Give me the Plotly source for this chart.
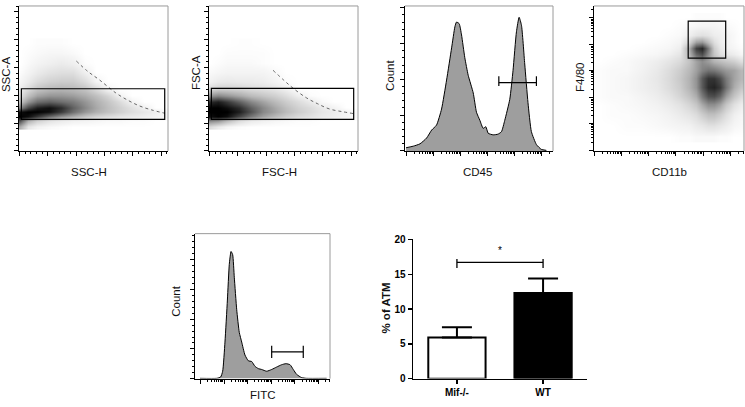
import plotly.graph_objects as go
import math

W, H = 745, 407

# ---------------- DATA ----------------
# Panel 1: SSC-A vs SSC-H density (rows = y, cols = x), relative density 0..1
ssc_x = [1, 6, 12, 20, 28, 36, 44, 52, 60, 68, 76, 84, 92, 98]
ssc_y = [17, 21, 24, 27, 30, 34, 38, 43, 48, 54, 60, 67, 74]
ssc_z = [
    [0.35, 0.10, 0.04, 0.02, 0.01, 0, 0, 0, 0, 0, 0, 0, 0, 0],
    [0.70, 0.35, 0.20, 0.12, 0.08, 0.05, 0.04, 0.03, 0.02, 0.02, 0.01, 0.01, 0, 0],
    [1.00, 0.95, 0.80, 0.60, 0.45, 0.35, 0.25, 0.18, 0.14, 0.10, 0.08, 0.06, 0.04, 0.03],
    [0.95, 1.00, 1.00, 0.95, 0.80, 0.60, 0.45, 0.35, 0.27, 0.20, 0.14, 0.10, 0.06, 0.02],
    [0.50, 0.75, 0.90, 0.95, 0.85, 0.65, 0.50, 0.38, 0.28, 0.20, 0.12, 0.05, 0, 0],
    [0.25, 0.45, 0.60, 0.65, 0.60, 0.55, 0.45, 0.35, 0.25, 0.15, 0.04, 0, 0, 0],
    [0.12, 0.28, 0.40, 0.45, 0.45, 0.42, 0.36, 0.28, 0.18, 0.04, 0, 0, 0, 0],
    [0.06, 0.15, 0.25, 0.30, 0.32, 0.30, 0.25, 0.15, 0.03, 0, 0, 0, 0, 0],
    [0.03, 0.08, 0.15, 0.20, 0.22, 0.22, 0.15, 0.04, 0, 0, 0, 0, 0, 0],
    [0.01, 0.04, 0.08, 0.12, 0.14, 0.14, 0.06, 0, 0, 0, 0, 0, 0, 0],
    [0, 0.02, 0.04, 0.06, 0.08, 0.06, 0.01, 0, 0, 0, 0, 0, 0, 0],
    [0, 0.01, 0.02, 0.03, 0.03, 0.02, 0, 0, 0, 0, 0, 0, 0, 0],
    [0, 0, 0.01, 0.01, 0.01, 0, 0, 0, 0, 0, 0, 0, 0, 0],
]
ssc_edge_x = [38.5, 46, 54, 65, 73, 81, 90, 98]
ssc_edge_y = [62, 55, 49, 40, 35, 31, 28, 26]
ssc_gate = [1.6, 97.8, 21.8, 42.9]  # x0, x1, y0, y1

# Panel 2: FSC-A vs FSC-H density
fsc_x = [1, 6, 12, 20, 28, 36, 44, 52, 60, 68, 76, 84, 92, 98]
fsc_y = [17, 21, 24, 27, 30, 34, 38, 43, 48, 54, 60, 67, 74]
fsc_z = [
    [0.15, 0.08, 0.03, 0.01, 0, 0, 0, 0, 0, 0, 0, 0, 0, 0],
    [0.50, 0.45, 0.30, 0.15, 0.08, 0.05, 0.03, 0.02, 0.01, 0.01, 0, 0, 0, 0],
    [0.95, 1.00, 0.95, 0.75, 0.55, 0.40, 0.30, 0.22, 0.16, 0.12, 0.08, 0.06, 0.04, 0.02],
    [1.00, 1.00, 1.00, 0.90, 0.70, 0.50, 0.40, 0.30, 0.22, 0.16, 0.10, 0.07, 0.04, 0.02],
    [1.00, 1.00, 0.95, 0.85, 0.65, 0.50, 0.38, 0.28, 0.20, 0.15, 0.08, 0.04, 0, 0],
    [0.85, 0.90, 0.80, 0.65, 0.50, 0.40, 0.30, 0.22, 0.15, 0.08, 0.02, 0, 0, 0],
    [0.45, 0.50, 0.45, 0.38, 0.30, 0.25, 0.20, 0.14, 0.06, 0.01, 0, 0, 0, 0],
    [0.15, 0.20, 0.20, 0.18, 0.15, 0.13, 0.10, 0.05, 0, 0, 0, 0, 0, 0],
    [0.05, 0.08, 0.09, 0.08, 0.08, 0.07, 0.04, 0.01, 0, 0, 0, 0, 0, 0],
    [0.02, 0.03, 0.04, 0.04, 0.04, 0.04, 0.02, 0, 0, 0, 0, 0, 0, 0],
    [0, 0.01, 0.02, 0.02, 0.02, 0.01, 0, 0, 0, 0, 0, 0, 0, 0],
    [0, 0, 0.01, 0.01, 0.01, 0.01, 0, 0, 0, 0, 0, 0, 0, 0],
    [0, 0, 0, 0.005, 0.005, 0, 0, 0, 0, 0, 0, 0, 0, 0],
]
fsc_edge_x = [43, 50, 56.4, 65.3, 73, 81, 90, 97.8]
fsc_edge_y = [55.6, 49, 43.3, 36.7, 32.5, 28.9, 27, 25.6]
fsc_gate = [1.6, 97.1, 21.8, 43.1]

# Panel 3: CD45 histogram
cd45_x = [0.7, 5.6, 10.1, 14.6, 18.0, 21.3, 24.7, 28.1, 31.5, 33.7, 34.8, 36.6, 38.2, 40.4, 42.7,
          46.1, 48.3, 50.6, 52.8, 54.6, 56.2, 59.6, 62.9, 65.2, 67.4, 70.8, 73.0, 75.3, 77.1, 78.7,
          80.9, 83.1, 85.4, 88.8, 92.1, 95.5]
cd45_count = [2.2, 3.3, 4.9, 8.9, 14.4, 17.8, 28.9, 48.9, 71.1, 85.6, 88.9, 87.8, 80.0, 64.4, 52.2,
              40.0, 26.7, 21.1, 15.6, 16.7, 12.2, 11.1, 11.6, 13.3, 21.1, 35.6, 55.6, 82.2, 92.2, 86.7,
              60.0, 33.3, 13.3, 4.4, 1.1, 0.4]
cd45_gate = [63.4, 88.8, 47.1]  # x0, x1, y

# Panel 4: F4/80 vs CD11b density
mac_x = [3, 12, 22, 32, 42, 50, 57, 63, 68, 72, 76, 80, 84, 88, 93, 98]
mac_y = [10, 18, 25, 32, 38, 44, 50, 56, 62, 67, 71, 75, 80, 86, 92]
mac_z = [
    [0, 0, 0, 0, 0, 0, 0.01, 0.01, 0.02, 0.02, 0.02, 0.02, 0.01, 0.01, 0, 0],
    [0, 0, 0.01, 0.01, 0.02, 0.03, 0.04, 0.05, 0.08, 0.10, 0.13, 0.13, 0.10, 0.07, 0.03, 0.02],
    [0, 0.01, 0.01, 0.02, 0.03, 0.05, 0.08, 0.11, 0.15, 0.22, 0.28, 0.28, 0.22, 0.14, 0.06, 0.03],
    [0, 0.01, 0.02, 0.03, 0.05, 0.08, 0.12, 0.18, 0.25, 0.38, 0.48, 0.48, 0.40, 0.25, 0.13, 0.07],
    [0.01, 0.02, 0.02, 0.04, 0.07, 0.11, 0.18, 0.26, 0.36, 0.55, 0.70, 0.72, 0.62, 0.42, 0.25, 0.15],
    [0.01, 0.02, 0.03, 0.06, 0.09, 0.15, 0.22, 0.33, 0.45, 0.68, 0.85, 0.88, 0.80, 0.58, 0.36, 0.25],
    [0.01, 0.02, 0.03, 0.06, 0.10, 0.16, 0.24, 0.34, 0.46, 0.68, 0.82, 0.82, 0.72, 0.55, 0.40, 0.32],
    [0.01, 0.02, 0.02, 0.05, 0.09, 0.15, 0.22, 0.31, 0.41, 0.52, 0.58, 0.56, 0.50, 0.44, 0.40, 0.32],
    [0, 0.01, 0.02, 0.04, 0.07, 0.11, 0.16, 0.26, 0.40, 0.48, 0.42, 0.33, 0.29, 0.25, 0.21, 0.14],
    [0, 0, 0.01, 0.02, 0.03, 0.06, 0.11, 0.32, 0.62, 0.72, 0.48, 0.25, 0.14, 0.10, 0.07, 0.03],
    [0, 0, 0, 0.01, 0.02, 0.03, 0.07, 0.36, 0.78, 0.88, 0.56, 0.22, 0.10, 0.05, 0.03, 0.01],
    [0, 0, 0, 0, 0.01, 0.02, 0.04, 0.18, 0.42, 0.46, 0.30, 0.14, 0.07, 0.04, 0.02, 0],
    [0, 0, 0, 0, 0, 0.01, 0.02, 0.06, 0.11, 0.13, 0.11, 0.07, 0.06, 0.04, 0.02, 0],
    [0, 0, 0, 0, 0, 0, 0.01, 0.02, 0.03, 0.04, 0.04, 0.04, 0.03, 0.02, 0.01, 0],
    [0, 0, 0, 0, 0, 0, 0, 0, 0.01, 0.01, 0.01, 0.01, 0.01, 0, 0, 0],
]
mac_gate = [62.8, 87.8, 64.0, 89.6]

# Panel 5: FITC histogram
fitc_x = [3.7, 16.0, 19.0, 20.5, 22.2, 24.0, 25.4, 26.7, 27.9, 29.1, 30.9, 32.8, 34.6, 37.0, 39.5,
          42.0, 44.4, 46.9, 49.4, 53.1, 56.8, 60.5, 64.2, 67.4, 70.4, 72.8, 75.3, 79.0, 82.7, 97.5]
fitc_count = [0.2, 0.2, 1.1, 5.1, 25.2, 54.2, 78.8, 87.7, 85.5, 69.9, 47.5, 31.9, 25.2, 16.3, 12.3,
              11.8, 8.5, 6.9, 6.3, 5.1, 6.3, 8.0, 9.6, 10.3, 9.6, 6.3, 2.9, 0.7, 0.2, 0.2]
fitc_gate = [56.8, 80.2, 18.5]

# Panel 6: bar chart
groups = ["Mif-/-", "WT"]
pct_atm = [5.9, 12.3]
pct_err = [1.5, 2.1]
sig_y = 16.7
sig_label = "*"

# ---------------- helpers ----------------
def xd(a, b):
    return [a / W, b / W]

def yd(top, bottom):
    return [1 - bottom / H, 1 - top / H]

def lin_minor(majors, n=5):
    step = majors[1] - majors[0]
    out = []
    for m in majors:
        for k in range(1, n):
            v = m + k * step / n
            if v <= 100:
                out.append(v)
    return out

def log_minor(majors):
    step = majors[1] - majors[0]
    out = []
    for m in majors:
        for k in range(2, 10):
            v = m + math.log10(k) * step
            if v <= 100:
                out.append(v)
    return out

gray_scale = [[0, "#ffffff"], [0.03, "#f6f6f6"], [0.15, "#dcdcdc"], [0.35, "#b0b0b0"],
              [0.6, "#6e6e6e"], [0.85, "#2c2c2c"], [1, "#000000"]]
FONT = "Liberation Sans, Arial, sans-serif"

fig = go.Figure()

panels = {
    1: dict(x=xd(19, 168), y=yd(1, 150)),
    2: dict(x=xd(209, 358), y=yd(1, 150)),
    3: dict(x=xd(405, 553), y=yd(1, 150)),
    4: dict(x=xd(594, 744), y=yd(1, 150)),
    5: dict(x=xd(195, 330), y=yd(235, 384)),
    6: dict(x=xd(413, 587), y=yd(241, 384)),
}

tick_cfg = {
    1: dict(xmaj=[0.4, 19.4, 38.4, 57.4, 76.4, 95.4], xlog=False,
            ymaj=[0, 19.2, 38.4, 57.6, 76.8, 96], ylog=False),
    2: dict(xmaj=[0.4, 19.4, 38.4, 57.4, 76.4, 95.4], xlog=False,
            ymaj=[0, 19.2, 38.4, 57.6, 76.8, 96], ylog=False),
    3: dict(xmaj=[0.8, 19.1, 37.4, 55.7, 74.0, 92.3], xlog=True,
            ymaj=[0, 24.7, 49.4, 74.1, 98.8], ylog=False),
    4: dict(xmaj=[0, 18.2, 36.4, 54.6, 72.8, 91.0], xlog=True,
            ymaj=[0.4, 18.9, 37.1, 55.6, 73.3, 91.8], ylog=True),
    5: dict(xmaj=[4, 21.5, 39, 56.5, 74, 91.5], xlog=True,
            ymaj=[0, 20.5, 41, 61.5, 82], ylog=False),
}

layout = dict(width=W, height=H, autosize=False, margin=dict(l=0, r=0, t=0, b=0),
              paper_bgcolor="white", plot_bgcolor="rgba(0,0,0,0)", showlegend=False)

shapes = []
for i in range(1, 6):
    c = tick_cfg[i]
    xminor = log_minor(c["xmaj"]) if c["xlog"] else lin_minor(c["xmaj"])
    yminor = log_minor(c["ymaj"]) if c["ylog"] else lin_minor(c["ymaj"])
    sx = "" if i == 1 else str(i)
    layout["xaxis" + sx] = dict(
        domain=panels[i]["x"], range=[0, 100], anchor="y" + sx, showgrid=False, zeroline=False,
        showline=True, linecolor="black", linewidth=1, ticks="outside", ticklen=4, tickwidth=1,
        tickcolor="black", tickmode="array", tickvals=c["xmaj"], showticklabels=False,
        minor=dict(tickmode="array", tickvals=xminor, ticks="outside", ticklen=2, tickcolor="black"),
        fixedrange=True)
    layout["yaxis" + sx] = dict(
        domain=panels[i]["y"], range=[0, 100], anchor="x" + sx, showgrid=False, zeroline=False,
        showline=True, linecolor="black", linewidth=1, ticks="outside", ticklen=4, tickwidth=1,
        tickcolor="black", tickmode="array", tickvals=c["ymaj"], showticklabels=False,
        minor=dict(tickmode="array", tickvals=yminor, ticks="outside", ticklen=2, tickcolor="black"),
        fixedrange=True)
    # grey frame top and right
    x0, x1 = panels[i]["x"]
    y0, y1 = panels[i]["y"]
    shapes.append(dict(type="line", xref="paper", yref="paper", x0=x0, x1=x1, y0=y1, y1=y1,
                       line=dict(color="#9a9a9a", width=1)))
    shapes.append(dict(type="line", xref="paper", yref="paper", x0=x1, x1=x1, y0=y0, y1=y1,
                       line=dict(color="#9a9a9a", width=1)))

# Panel 1 & 2 densities
for sx, xs, ys, zs, ex, ey, gate in [("", ssc_x, ssc_y, ssc_z, ssc_edge_x, ssc_edge_y, ssc_gate),
                                     ("2", fsc_x, fsc_y, fsc_z, fsc_edge_x, fsc_edge_y, fsc_gate)]:
    fig.add_trace(go.Heatmap(x=xs, y=ys, z=zs, zmin=0, zmax=1, colorscale=gray_scale,
                             zsmooth="best", showscale=False, hoverinfo="skip",
                             xaxis="x" + sx, yaxis="y" + sx))
    fig.add_trace(go.Scatter(x=ex, y=ey, mode="lines", line=dict(color="#666666", width=1, dash="dot",
                             shape="spline"), xaxis="x" + sx, yaxis="y" + sx, hoverinfo="skip"))
    shapes.append(dict(type="rect", xref="x" + sx, yref="y" + sx, x0=gate[0], x1=gate[1],
                       y0=gate[2], y1=gate[3], line=dict(color="black", width=1.2)))

# Panel 3 histogram
fig.add_trace(go.Scatter(x=cd45_x, y=cd45_count, mode="lines", fill="tozeroy",
                         fillcolor="#9e9e9e", line=dict(color="black", width=1, shape="spline",
                         smoothing=0.5), xaxis="x3", yaxis="y3", hoverinfo="skip"))
fig.add_trace(go.Scatter(x=[cd45_gate[0], cd45_gate[1]], y=[cd45_gate[2], cd45_gate[2]],
                         mode="lines", line=dict(color="black", width=1.2), xaxis="x3", yaxis="y3",
                         hoverinfo="skip"))
for gx in cd45_gate[:2]:
    fig.add_trace(go.Scatter(x=[gx, gx], y=[cd45_gate[2] - 2.3, cd45_gate[2] + 4.4], mode="lines",
                             line=dict(color="black", width=1.2), xaxis="x3", yaxis="y3",
                             hoverinfo="skip"))

# Panel 4 density
fig.add_trace(go.Heatmap(x=mac_x, y=mac_y, z=mac_z, zmin=0, zmax=1, colorscale=gray_scale,
                         zsmooth="best", showscale=False, hoverinfo="skip",
                         xaxis="x4", yaxis="y4"))
shapes.append(dict(type="rect", xref="x4", yref="y4", x0=mac_gate[0], x1=mac_gate[1],
                   y0=mac_gate[2], y1=mac_gate[3], line=dict(color="black", width=1.2)))

# Panel 5 histogram
fig.add_trace(go.Scatter(x=fitc_x, y=fitc_count, mode="lines", fill="tozeroy",
                         fillcolor="#9e9e9e", line=dict(color="black", width=1, shape="spline",
                         smoothing=0.5), xaxis="x5", yaxis="y5", hoverinfo="skip"))
fig.add_trace(go.Scatter(x=[fitc_gate[0], fitc_gate[1]], y=[fitc_gate[2], fitc_gate[2]],
                         mode="lines", line=dict(color="black", width=1.2), xaxis="x5", yaxis="y5",
                         hoverinfo="skip"))
for gx in fitc_gate[:2]:
    fig.add_trace(go.Scatter(x=[gx, gx], y=[fitc_gate[2] - 4.2, fitc_gate[2] + 4.2], mode="lines",
                             line=dict(color="black", width=1.2), xaxis="x5", yaxis="y5",
                             hoverinfo="skip"))

# Panel 6 bar chart
bar_pos = list(range(len(groups)))
fig.add_trace(go.Bar(x=bar_pos, y=pct_atm, width=0.665,
                     marker=dict(color=["white", "black"], line=dict(color="black", width=2)),
                     error_y=dict(type="data", symmetric=False, array=pct_err,
                                  arrayminus=[0] * len(groups), color="black", thickness=2, width=15),
                     xaxis="x6", yaxis="y6", hoverinfo="skip"))
fig.add_trace(go.Scatter(x=[bar_pos[0], bar_pos[0], None, bar_pos[0], bar_pos[1], None,
                            bar_pos[1], bar_pos[1]],
                         y=[sig_y - 0.8, sig_y + 0.5, None, sig_y, sig_y, None,
                            sig_y - 0.8, sig_y + 0.5],
                         mode="lines", line=dict(color="black", width=1.3), xaxis="x6", yaxis="y6",
                         hoverinfo="skip"))

layout["xaxis6"] = dict(domain=panels[6]["x"], range=[-0.51, 1.51], anchor="y6", showgrid=False,
                        zeroline=False, showline=True, linecolor="black", linewidth=1.5,
                        ticks="outside", ticklen=4, tickwidth=1.5, tickcolor="black",
                        tickmode="array", tickvals=bar_pos, ticktext=["<b>%s</b>" % g for g in groups],
                        tickfont=dict(family=FONT, size=10, color="black"), fixedrange=True)
layout["yaxis6"] = dict(domain=panels[6]["y"], range=[0, 20], anchor="x6", showgrid=False,
                        zeroline=False, showline=True, linecolor="black", linewidth=1.5,
                        ticks="outside", ticklen=4, tickwidth=1.5, tickcolor="black",
                        tickmode="array", tickvals=[0, 5, 10, 15, 20],
                        ticktext=["<b>%d</b>" % v for v in [0, 5, 10, 15, 20]],
                        tickfont=dict(family=FONT, size=10, color="black"), fixedrange=True)

# Axis titles as annotations (pixel positions)
def ann(text, px, py, rot=0, size=11.5, bold=False):
    return dict(text=("<b>%s</b>" % text) if bold else text, x=px / W, y=1 - py / H,
                xref="paper", yref="paper", showarrow=False, textangle=rot,
                font=dict(family=FONT, size=size, color="#111111"),
                xanchor="center", yanchor="middle")

annotations = [
    ann("SSC-A", 6, 72, -90), ann("SSC-H", 89, 172),
    ann("FSC-A", 196, 70, -90), ann("FSC-H", 279, 172),
    ann("Count", 390, 73, -90), ann("CD45", 477, 172),
    ann("F4/80", 580, 75, -90), ann("CD11b", 669, 172),
    ann("Count", 176, 305, -90), ann("FITC", 263, 401),
    ann("% of ATM", 386, 312, -90, size=11.5, bold=True),
    dict(text=sig_label, x=(bar_pos[0] + bar_pos[1]) / 2, y=sig_y + 0.6, xref="x6", yref="y6",
         showarrow=False, yanchor="bottom", font=dict(family=FONT, size=10, color="black")),
]

layout["shapes"] = shapes
layout["annotations"] = annotations
fig.update_layout(**layout)
fig.write_html("out.html", config={"displayModeBar": False, "staticPlot": True},
               post_script="document.body.style.margin='0';document.body.style.overflow='hidden';")
